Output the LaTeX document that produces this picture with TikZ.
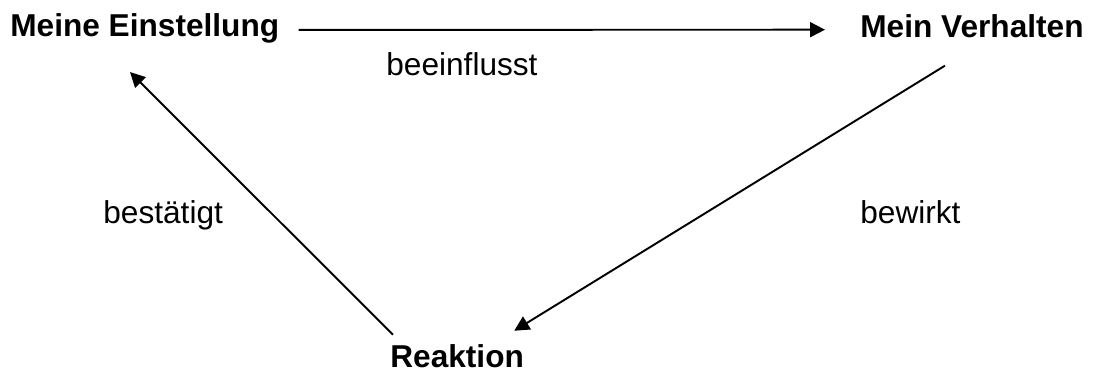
\documentclass[tikz,border=0pt]{standalone}
\usepackage{fontspec}
\setmainfont{Liberation Sans}
\usetikzlibrary{arrows.meta}

\begin{document}
\begin{tikzpicture}[
    x=0.02cm, y=-0.02cm,
    term/.style={anchor=base west, inner sep=0pt,
      font=\fontsize{18}{22}\selectfont\bfseries},
    word/.style={anchor=base west, inner sep=0pt,
      font=\fontsize{18}{22}\selectfont},
    arr/.style={line width=1.1pt, -{Triangle[length=8.5pt, width=8.5pt]}}
  ]
%\draw[help lines, step=50] (0, 0) grid (1094, 372);
\useasboundingbox (0, 0) rectangle (1094, 372);

% concepts
\node [term] (einst) at (10, 36) {Meine Einstellung};
\node [term] (verh) at (860, 37) {Mein Verhalten};
\node [term] (reakt) at (390, 367) {Reaktion};

% verbs
\node [word] (beein) at (386, 75) {beeinflusst};
\node [word] (bestae) at (103, 223) {bestätigt};
\node [word] (bewirkt) at (860, 223) {bewirkt};

% arrows
\draw [arr]
  ([shift={(19, 2)}]einst.east) to
  ([shift={(-35, 4)}]verh.west);

\draw [arr]
  ([shift={(-27, 28)}]verh.south) to
  ([shift={(-10, -13)}]reakt.north east);

\draw [arr]
  ([shift={(3, -9)}]reakt.north west) to
  ([shift={(120, 29)}]einst.south west);

\end{tikzpicture}
\end{document}
